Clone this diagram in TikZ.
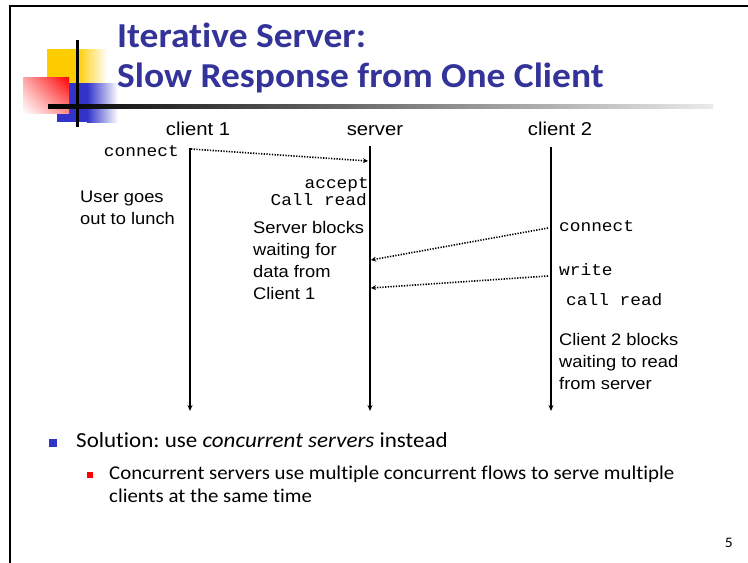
\documentclass[tikz,border=0pt]{standalone}
\usepackage{fontspec}
\setmainfont[FakeStretch=1.07,Ligatures=NoCommon]{Carlito}
\newfontfamily\hdrfont[FakeStretch=1.09]{Liberation Sans}
\newfontfamily\codefont[FakeStretch=1.08]{Liberation Mono}
\usetikzlibrary{arrows.meta,shadings}
\definecolor{titleblue}{RGB}{51,51,153}
\definecolor{logoyellow}{RGB}{255,204,0}
\definecolor{logoblue}{RGB}{51,51,204}
\definecolor{logored}{RGB}{255,0,0}
\frenchspacing
\begin{document}
\begin{tikzpicture}[x=1pt,y=-1pt,
  title/.style={inner sep=0pt, anchor=base west, align=left, text=titleblue,
    font=\bfseries\fontsize{35}{40}\selectfont},
  lbl/.style={inner sep=0pt, anchor=base, font=\hdrfont\fontsize{18.6}{22}\selectfont},
  txt/.style={inner sep=0pt, anchor=base west, align=left, font=\hdrfont\fontsize{16.8}{22}\selectfont},
  code/.style={inner sep=0pt, font=\codefont\fontsize{16.5}{20}\selectfont},
  life/.style={line width=1.5pt, -{Stealth[length=6pt,width=5pt]}},
  msg/.style={line width=1.6pt, dash pattern=on 1.3pt off 1.4pt, -{Stealth[length=5pt,width=5pt]}},
  bul/.style={inner sep=0pt, anchor=base west, align=left},
]
\useasboundingbox (0,0) rectangle (748,563);
\fill[white] (0,0) rectangle (748,563);
% frame
\draw[line width=2.5pt] (10,563) -- (10,6) -- (748,6);
% logo
\fill[logoyellow] (47,49) rectangle (77,90);
\shade[left color=logoyellow, right color=white] (77,49) rectangle (107,90);
\fill[logoblue] (57,83) rectangle (87,122);
\shade[left color=logoblue, right color=white] (87,83) rectangle (118,122);
\shade[upper left=logored!35, upper right=logored, lower left=white, lower right=logored!45] (23,77) rectangle (69,113);
\draw[line width=3pt] (77,40) -- (77,127);
\shade[left color=black, right color=white!92!black] (48,104.5) rectangle (713,108.5);
% title (base = last line)
\node[title] (t) at (117,87) {Iterative Server:\\Slow Response from One Client};
% headers
\node[lbl] (h1) at (198,135) {client 1};
\node[lbl] (h2) at (375,135) {server};
\node[lbl] (h3) at (560,135) {client 2};
% lifelines
\coordinate (c1top) at (190,148);
\coordinate (c1bot) at (190,411);
\coordinate (stop) at (370,146);
\coordinate (sbot) at (370,411);
\coordinate (c2top) at (551,147);
\coordinate (c2bot) at (551,411);
\draw[life] (c1top) -- (c1bot);
\draw[life] (stop) -- (sbot);
\draw[life] (c2top) -- (c2bot);
% messages
\coordinate (m1s) at (191,149);
\coordinate (m1e) at (368,161);
\coordinate (m2s) at (548,228);
\coordinate (m2e) at (371,260);
\coordinate (m3s) at (548,276);
\coordinate (m3e) at (371,288);
\draw[msg] (m1s) -- (m1e);
\draw[msg] (m2s) -- (m2e);
\draw[msg] (m3s) -- (m3e);
% labels (multi-line nodes anchored at last baseline)
\node[code, anchor=base east] (cc1) at (179,156) {connect};
\node[txt] (lunch) at (80,224) {User goes\\out to lunch};
\node[code, anchor=base east] (acc) at (369,188) {accept};
\node[code, anchor=base east] (cr1) at (367,205) {Call read};
\node[txt] (sblk) at (253,299) {Server blocks\\waiting for\\data from\\Client 1};
\node[code, anchor=base west] (cc2) at (559,231) {connect};
\node[code, anchor=base west] (wr) at (559,275) {write};
\node[code, anchor=base west] (cr2) at (566,305) {call read};
\node[txt] (c2blk) at (559,389) {Client 2 blocks\\waiting to read\\from server};
% bullets
\fill[logoblue] (49,439) rectangle (57,447);
\node[bul, font=\fontsize{21.5}{26}\selectfont] (b1) at (76,447) {Solution: use \textit{concurrent servers} instead};
\fill[logored] (87,472) rectangle (93,478);
\node[bul, font=\fontsize{19.5}{23}\selectfont] (b2) at (109,502) {Concurrent servers use multiple concurrent flows to serve multiple\\clients at the same time};
\node[inner sep=0pt, anchor=base east, font=\fontsize{14.5}{16}\selectfont] (pg) at (733,547) {5};
\end{tikzpicture}
\end{document}
